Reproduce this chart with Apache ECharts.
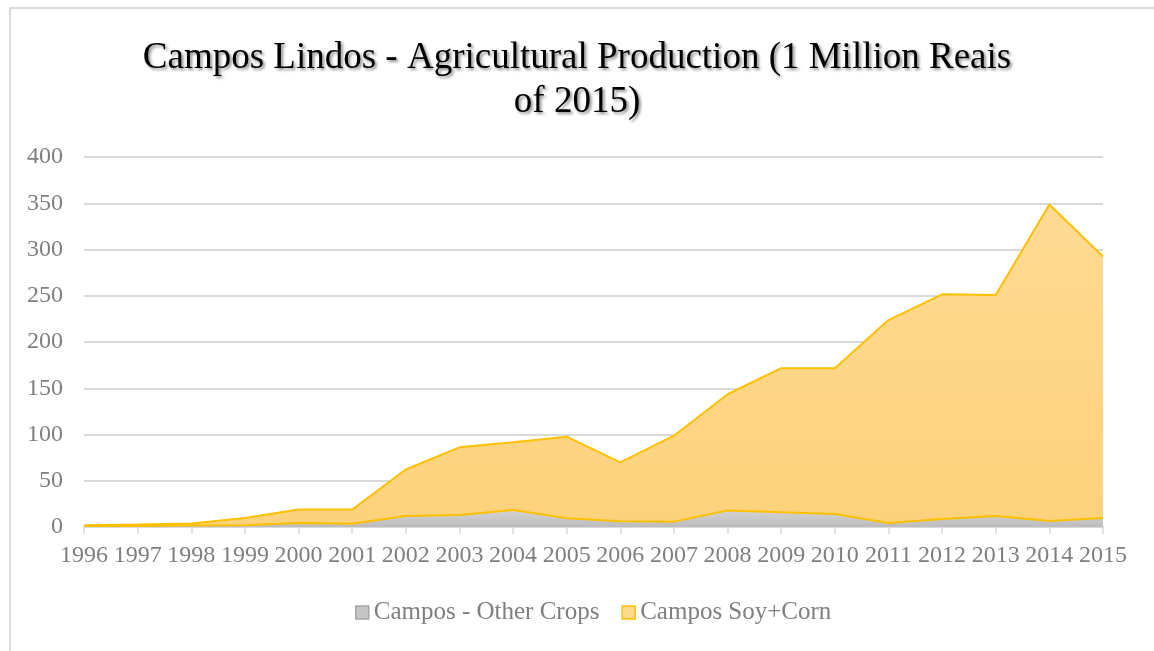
<!DOCTYPE html>
<html>
<head>
<meta charset="utf-8">
<script src="https://cdn.jsdelivr.net/npm/echarts@6/dist/echarts.min.js"></script>
<style>
  html, body { margin: 0; padding: 0; background: #fff; }
  #frame { position: absolute; left: 9px; top: 7px; width: 1200px; height: 700px;
           border-left: 2px solid #d9d9d9; border-top: 2px solid #d9d9d9; }
  #chart { position: absolute; left: 0; top: 0; width: 1154px; height: 651px; }
</style>
</head>
<body>
<div id="frame"></div>
<div id="chart"></div>
<script>
// Years on the horizontal axis
const years = ['1996','1997','1998','1999','2000','2001','2002','2003','2004','2005',
               '2006','2007','2008','2009','2010','2011','2012','2013','2014','2015'];

// Production value, million reais of 2015 (stacked: other crops at the bottom)
const otherCrops = [1.0, 1.2, 1.5, 1.8, 4.3, 3.6, 11.9, 13.0, 18.4, 9.4,
                    6.2, 5.8, 17.8, 15.9, 14.1, 4.4, 8.7, 12.0, 6.5, 9.8];
const soyCorn    = [1.0, 1.4, 2.2, 8.0, 14.5, 15.2, 50.3, 73.1, 73.1, 88.2,
                    63.6, 92.9, 125.7, 155.8, 157.6, 219.3, 242.8, 238.8, 342.2, 282.6];

const seriesNames = ['Campos - Other Crops', 'Campos Soy+Corn'];
const titleText = 'Campos Lindos - Agricultural Production (1 Million Reais\nof 2015)';

const serif = '"Liberation Serif", "Times New Roman", serif';
const gold = '#FFC000';
const labelGray = '#7f7f7f';

const chart = echarts.init(document.getElementById('chart'));
chart.setOption({
  animation: false,
  title: {
    text: titleText,
    left: 'center',
    top: 31,
    textStyle: {
      fontFamily: serif, fontSize: 37, fontWeight: 'normal', color: '#000',
      lineHeight: 44,
      textShadowColor: 'rgba(0,0,0,0.45)', textShadowBlur: 3,
      textShadowOffsetX: 2, textShadowOffsetY: 2
    }
  },
  legend: {
    bottom: 21,
    left: 350,
    icon: 'rect',
    itemWidth: 13,
    itemHeight: 13,
    itemGap: 22,
    textStyle: { fontFamily: serif, fontSize: 25, color: labelGray },
    data: [
      { name: seriesNames[0], itemStyle: { color: '#c6c6c6', borderColor: '#a6a6a6', borderWidth: 1.5 } },
      { name: seriesNames[1], itemStyle: { color: '#ffd98f', borderColor: gold, borderWidth: 1.5 } }
    ]
  },
  grid: { left: 84, right: 51, top: 157, bottom: 124, containLabel: false },
  xAxis: {
    type: 'category',
    data: years,
    boundaryGap: false,
    axisLine: { lineStyle: { color: '#d9d9d9', width: 2 } },
    axisTick: { show: true, interval: 0, length: 7, lineStyle: { color: '#d9d9d9', width: 1.5 } },
    axisLabel: { interval: 0, hideOverlap: false, fontFamily: serif, fontSize: 24, color: labelGray, margin: 17 }
  },
  yAxis: {
    type: 'value',
    min: 0, max: 400, interval: 50,
    axisLine: { show: false },
    axisTick: { show: false },
    axisLabel: { fontFamily: serif, fontSize: 24, color: labelGray, margin: 21 },
    splitLine: { lineStyle: { color: '#d9d9d9', width: 2 } }
  },
  series: [
    {
      name: seriesNames[0],
      type: 'line',
      stack: 'total',
      data: otherCrops,
      showSymbol: false,
      // upper edge sits under the gold outline of the stacked area
      lineStyle: { color: gold, width: 2 },
      itemStyle: { color: '#c6c6c6' },
      areaStyle: {
        opacity: 1,
        color: new echarts.graphic.LinearGradient(0, 0, 0, 1, [
          { offset: 0, color: '#d4d4d4' }, { offset: 1, color: '#bcbcbc' }
        ])
      },
      z: 3
    },
    {
      name: seriesNames[1],
      type: 'line',
      stack: 'total',
      data: soyCorn,
      showSymbol: false,
      lineStyle: { color: gold, width: 2 },
      itemStyle: { color: gold },
      areaStyle: {
        opacity: 1,
        color: new echarts.graphic.LinearGradient(0, 0, 0, 1, [
          { offset: 0, color: '#ffda93' }, { offset: 1, color: '#fdd27c' }
        ])
      },
      z: 2
    }
  ]
});
</script>
</body>
</html>
